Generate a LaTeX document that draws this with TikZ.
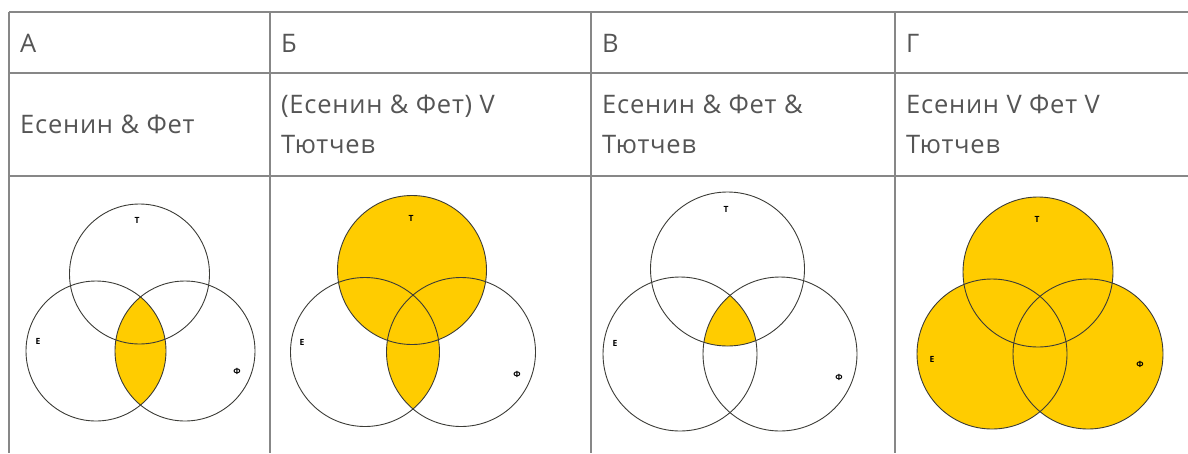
\documentclass[tikz,border=0pt]{standalone}
\usepackage{fontspec}
\setmainfont{Open Sans}
\newfontfamily\cellfont[LetterSpace=3.0]{Open Sans}
\definecolor{vyellow}{RGB}{255,204,0}
\definecolor{gridc}{RGB}{135,135,135}
\definecolor{txtc}{RGB}{85,85,85}
\definecolor{linec}{RGB}{60,60,55}
\tikzset{
  grid/.style={draw=gridc, line width=1.6pt},
  cell/.style={anchor=base west, inner sep=0pt, text=txtc, font=\cellfont\fontsize{25.5}{30}\selectfont},
  vlabel/.style={inner sep=0pt, text=black, font=\fontsize{8.5}{9}\selectfont\bfseries},
  vline/.style={draw=linec, line width=0.9pt},
  vfill/.style={fill=vyellow},
}
\begin{document}
\begin{tikzpicture}[x=1pt,y=-1pt]
\useasboundingbox (0,0) rectangle (1188,453);
% table grid
\draw[grid] (9,12) -- (1188,12);
\draw[grid] (9,73) -- (1188,73);
\draw[grid] (9,176) -- (1188,176);
\draw[grid] (9,12) -- (9,453);
\draw[grid] (270,12) -- (270,453);
\draw[grid] (591,12) -- (591,453);
\draw[grid] (895,12) -- (895,453);
% header row
\node[cell] (hA) at (20,52) {А};
\node[cell] (hB) at (281,52) {Б};
\node[cell] (hC) at (602,52) {В};
\node[cell] (hD) at (906,52) {Г};
% expressions
\node[cell] (eA) at (20,133) {Есенин \& Фет};
\node[cell] (eB1) at (281,113) {(Есенин \& Фет) V};
\node[cell] (eB2) at (281,153) {Тютчев};
\node[cell] (eC1) at (602,113) {Есенин \& Фет \&};
\node[cell] (eC2) at (602,153) {Тютчев};
\node[cell] (eD1) at (906,113) {Есенин V Фет V};
\node[cell] (eD2) at (906,153) {Тютчев};
% centres
\coordinate (aT) at (139.5,274); \coordinate (aE) at (96,351); \coordinate (aF) at (185,351);
\coordinate (bT) at (412,270); \coordinate (bE) at (365,352); \coordinate (bF) at (461,352);
\coordinate (cT) at (727.5,269); \coordinate (cE) at (680,354); \coordinate (cF) at (780,354);
\coordinate (dT) at (1038,272); \coordinate (dE) at (992,354); \coordinate (dF) at (1088,354);
% A: E & F
\begin{scope}
  \clip (aE) circle (70pt);
  \fill[vfill] (aF) circle (70pt);
\end{scope}
\draw[vline] (aT) circle (70pt);
\draw[vline] (aE) circle (70pt);
\draw[vline] (aF) circle (70pt);
% B: (E & F) V T
\fill[vfill] (bT) circle (74.5pt);
\begin{scope}
  \clip (bE) circle (74.5pt);
  \fill[vfill] (bF) circle (74.5pt);
\end{scope}
\draw[vline] (bT) circle (74.5pt);
\draw[vline] (bE) circle (74.5pt);
\draw[vline] (bF) circle (74.5pt);
% C: E & F & T
\begin{scope}
  \clip (cE) circle (77pt);
  \clip (cF) circle (77pt);
  \fill[vfill] (cT) circle (77pt);
\end{scope}
\draw[vline] (cT) circle (77pt);
\draw[vline] (cE) circle (77pt);
\draw[vline] (cF) circle (77pt);
% D: E V F V T
\fill[vfill] (dT) circle (75pt);
\fill[vfill] (dE) circle (75pt);
\fill[vfill] (dF) circle (75pt);
\draw[vline] (dT) circle (75pt);
\draw[vline] (dE) circle (75pt);
\draw[vline] (dF) circle (75pt);
% circle labels
\node[vlabel] (laT) at (137,220) {Т};
\node[vlabel] (laE) at (38,341) {Е};
\node[vlabel] (laF) at (237,371) {Ф};
\node[vlabel] (lbT) at (411,218) {Т};
\node[vlabel] (lbE) at (302,342) {Е};
\node[vlabel] (lbF) at (517,374) {Ф};
\node[vlabel] (lcT) at (726,209) {Т};
\node[vlabel] (lcE) at (615,343) {Е};
\node[vlabel] (lcF) at (839,377) {Ф};
\node[vlabel] (ldT) at (1037,219) {Т};
\node[vlabel] (ldE) at (932,359) {Е};
\node[vlabel] (ldF) at (1140,364) {Ф};
\end{tikzpicture}
\end{document}
